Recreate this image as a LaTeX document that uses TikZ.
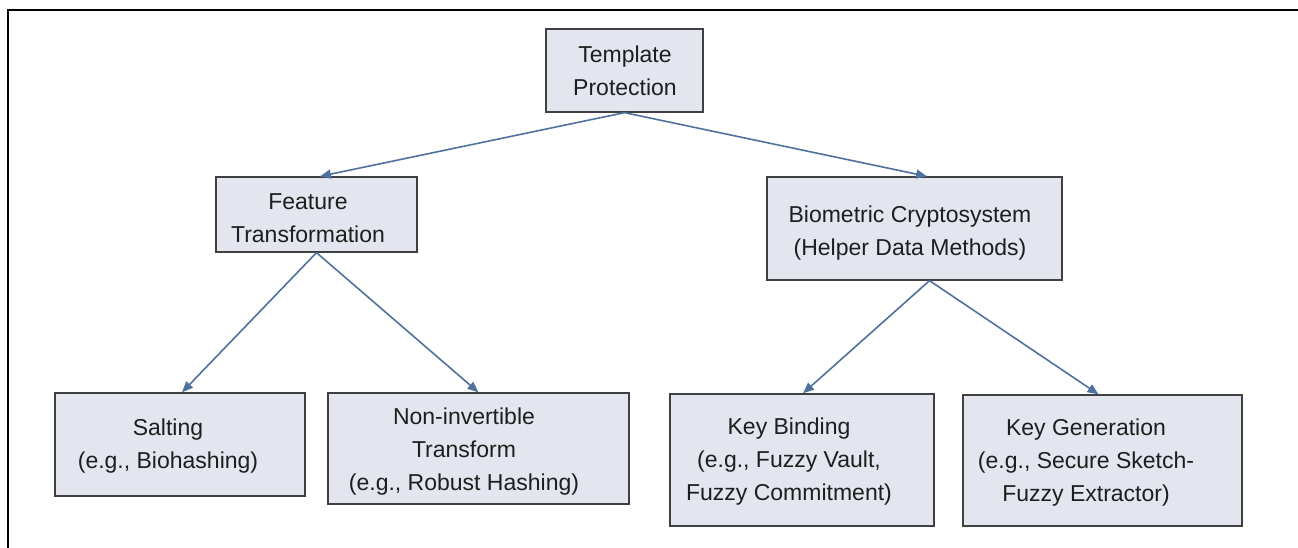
\documentclass[tikz,border=0pt]{standalone}
\usepackage{fontspec}
\setmainfont{Liberation Sans}
\usetikzlibrary{arrows.meta}
\definecolor{boxfill}{HTML}{E3E6EE}
\definecolor{boxline}{HTML}{404040}
\definecolor{arrowblue}{HTML}{4F719C}
\definecolor{txt}{HTML}{1E1E1E}
\tikzset{
  box/.style={rectangle, draw=boxline, fill=boxfill, line width=1.3pt, inner sep=0pt},
  label/.style={align=center, text=txt, font=\fontsize{23}{33}\selectfont, inner sep=0pt},
  conn/.style={draw=arrowblue, line width=1.6pt, -{Triangle[length=11pt,width=9pt]}},
}
\begin{document}
\begin{tikzpicture}[x=1pt,y=-1pt]
\useasboundingbox (0,0) rectangle (1298,548);
\coordinate (frTR) at (1298,10);
\coordinate (frTL) at (8,10);
\coordinate (frBL) at (8,548);
\draw[line width=2pt, black] (frTR) -- (frTL) -- (frBL);

\node[box, minimum width=157pt, minimum height=83pt] (tp) at (624.5,70.5) {};
\node[box, minimum width=201pt, minimum height=75pt] (ft) at (316.5,214.5) {};
\node[box, minimum width=295pt, minimum height=103pt] (bc) at (914.5,228.5) {};
\node[box, minimum width=250pt, minimum height=103pt] (salt) at (180,444.5) {};
\node[box, minimum width=301pt, minimum height=111pt] (ni) at (478.5,448.5) {};
\node[box, minimum width=264pt, minimum height=132pt] (kb) at (802,460) {};
\node[box, minimum width=279pt, minimum height=131pt] (kg) at (1102.5,460.5) {};

\node[label] (tpT) at (625,71) {Template\\Protection};
\node[label] (ftT) at (308,218) {Feature\\Transformation};
\node[label] (bcT) at (910,233) {Biometric Cryptosystem\\(Helper Data Methods)};
\node[label] (saltT) at (168,446) {Salting\\(e.g., Biohashing)};
\node[label] (niT) at (464,451.5) {Non-invertible\\Transform\\(e.g., Robust Hashing)};
\node[label] (kbT) at (789,461.5) {Key Binding\\(e.g., Fuzzy Vault,\\Fuzzy Commitment)};
\node[label] (kgT) at (1086,462.5) {Key Generation\\(e.g., Secure Sketch-\\Fuzzy Extractor)};

\draw[conn] (tp.south) -- ([xshift=3.5pt]ft.north);
\draw[conn] (tp.south) -- ([xshift=12.5pt]bc.north);
\draw[conn] (ft.south) -- ([xshift=2pt]salt.north);
\draw[conn] (ft.south) -- (ni.north);
\draw[conn] ([xshift=15pt]bc.south) -- ([xshift=1pt]kb.north);
\draw[conn] ([xshift=15pt]bc.south) -- ([xshift=-4pt]kg.north);
\end{tikzpicture}
\end{document}
